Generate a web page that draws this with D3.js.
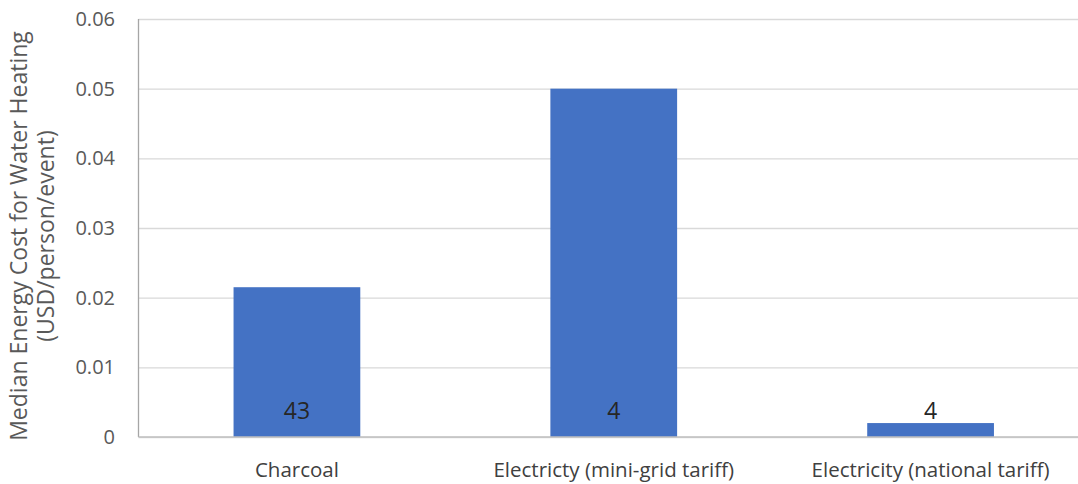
<!DOCTYPE html>
<html>
<head>
<meta charset="utf-8">
<script src="https://cdn.jsdelivr.net/npm/d3@7"></script>
<style>
  html, body { margin: 0; padding: 0; background: #fff; }
  svg { display: block; font-family: "Open Sans", sans-serif; }
</style>
</head>
<body>
<svg id="chart" width="1078" height="484"></svg>
<script>
// Median energy cost of heating water, by energy source
const categories = ["Charcoal", "Electricty (mini-grid tariff)", "Electricity (national tariff)"];
const costs = [0.0215, 0.05, 0.002];
const sampleSizes = ["43", "4", "4"];
const yTicks = [0, 0.01, 0.02, 0.03, 0.04, 0.05, 0.06];
const yTickLabels = ["0", "0.01", "0.02", "0.03", "0.04", "0.05", "0.06"];

const svg = d3.select("#chart");
const plotLeft = 138.5, plotRight = 1089, plotTop = 19, plotBottom = 437;

const x = d3.scaleBand().domain(categories).range([plotLeft, plotRight]).paddingInner(0.6).paddingOuter(0.3);
const y = d3.scaleLinear().domain([0, 0.06]).range([plotBottom, plotTop]);

// horizontal gridlines
const yAxis = d3.axisLeft(y).tickValues(yTicks).tickSize(-(plotRight - plotLeft)).tickFormat((d, i) => yTickLabels[i]);
const gy = svg.append("g").attr("transform", `translate(${plotLeft},0)`).call(yAxis);
gy.select(".domain").remove();
gy.selectAll(".tick line").attr("stroke", "#d9d9d9").attr("stroke-width", 1.3);
gy.selectAll(".tick text")
  .attr("x", -23.5)
  .attr("fill", "#595959")
  .style("font-size", "20px")
  .style("font-family", "'Open Sans', sans-serif");

// bars
svg.append("g").selectAll("rect")
  .data(costs)
  .join("rect")
  .attr("x", (d, i) => x(categories[i]))
  .attr("width", x.bandwidth())
  .attr("y", d => y(d))
  .attr("height", d => y(0) - y(d))
  .attr("fill", "#4472c4");

// left axis line and baseline
svg.append("line").attr("x1", plotLeft).attr("x2", plotLeft).attr("y1", plotTop).attr("y2", plotBottom)
  .attr("stroke", "#a6a6a6").attr("stroke-width", 1.3);
svg.append("line").attr("x1", plotLeft).attr("x2", plotRight).attr("y1", plotBottom).attr("y2", plotBottom)
  .attr("stroke", "#bfbfbf").attr("stroke-width", 1.3);

// category labels
const xAxis = d3.axisBottom(x).tickSize(0).tickPadding(0);
const gx = svg.append("g").attr("transform", `translate(0,${plotBottom})`).call(xAxis);
gx.select(".domain").remove();
gx.selectAll(".tick text")
  .attr("y", 40)
  .attr("dy", 0)
  .attr("fill", "#404040")
  .style("font-size", "20.5px")
  .style("font-family", "'Open Sans', sans-serif");

// sample size labels near the base of each bar
svg.append("g").selectAll("text")
  .data(sampleSizes)
  .join("text")
  .attr("x", (d, i) => x(categories[i]) + x.bandwidth() / 2)
  .attr("y", y(0) - 18)
  .attr("text-anchor", "middle")
  .attr("fill", "#262626")
  .style("font-size", "23px")
  .text(d => d);

// y-axis title
const title = svg.append("text")
  .attr("transform", `translate(27,236) rotate(-90)`)
  .attr("text-anchor", "middle")
  .attr("fill", "#595959")
  .style("font-size", "23px");
title.append("tspan").attr("x", 0).attr("dy", 0).text("Median Energy Cost for Water Heating");
title.append("tspan").attr("x", 0).attr("dy", 27).text("(USD/person/event)");
</script>
</body>
</html>
